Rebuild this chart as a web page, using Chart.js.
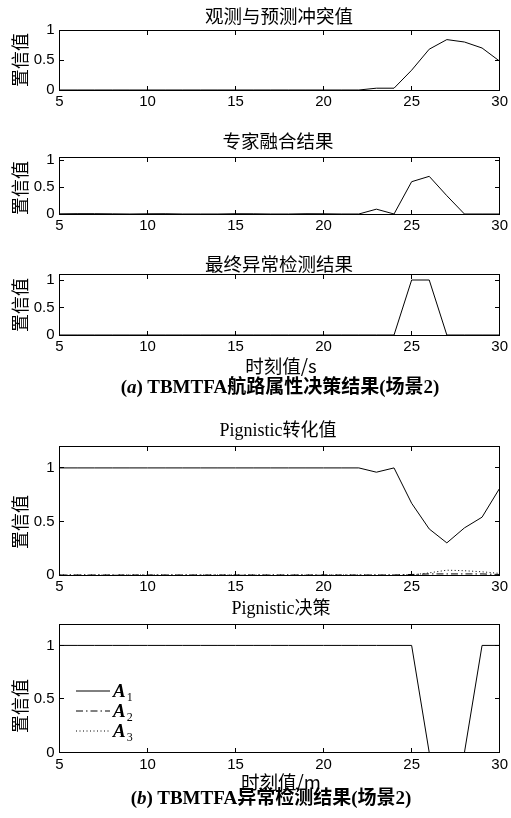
<!DOCTYPE html>
<html><head><meta charset="utf-8">
<script src="https://cdn.jsdelivr.net/npm/chart.js@4"></script>
<style>
html,body{margin:0;padding:0;background:#fff;}
body{width:511px;height:818px;position:relative;overflow:hidden;}
canvas{position:absolute;left:0;top:0;}
.t{position:absolute;white-space:nowrap;transform:translate(-50%,-50%);color:#000;line-height:1;}
.cjk{font-family:"Noto Sans CJK SC",sans-serif;font-size:18.5px;}
.ser{font-family:"Liberation Serif","Noto Sans CJK SC",serif;font-size:18px;}
.cap{font-family:"Liberation Serif","Noto Sans CJK SC",serif;font-size:19px;font-weight:bold;}
.yl{transform:translate(-50%,-50%) rotate(-90deg);font-size:18px;}
</style></head><body>
<canvas id="c1" width="511" height="818"></canvas>
<canvas id="c2" width="511" height="818"></canvas>
<canvas id="c3" width="511" height="818"></canvas>
<canvas id="c4" width="511" height="818"></canvas>
<canvas id="c5" width="511" height="818"></canvas>

<div class="t cjk" style="left:279px;top:15px">观测与预测冲突值</div>
<div class="t cjk" style="left:278px;top:140px">专家融合结果</div>
<div class="t cjk" style="left:279px;top:263px">最终异常检测结果</div>
<div class="t cjk" style="left:281px;top:365px">时刻值/s</div>
<div class="t cap" style="left:280px;top:386px">(<i>a</i>) TBMTFA航路属性决策结果(场景2)</div>
<div class="t ser" style="left:278px;top:430px">Pignistic转化值</div>
<div class="t ser" style="left:281px;top:608px">Pignistic决策</div>
<div class="t cjk" style="left:281px;top:781px">时刻值/m</div>
<div class="t cap" style="left:271px;top:797px">(<i>b</i>) TBMTFA异常检测结果(场景2)</div>

<div class="t cjk yl" style="left:19px;top:60px">置信值</div>
<div class="t cjk yl" style="left:19px;top:188px">置信值</div>
<div class="t cjk yl" style="left:19px;top:305px">置信值</div>
<div class="t cjk yl" style="left:19px;top:522px">置信值</div>
<div class="t cjk yl" style="left:19px;top:706px">置信值</div>

<script>
// ---- data ----
const timeSteps = [5,6,7,8,9,10,11,12,13,14,15,16,17,18,19,20,21,22,23,24,25,26,27,28,29,30];
const xTicks = [5,10,15,20,25,30];
const yTicks = [0,0.5,1];

const conflictValues = [0,0,0,0,0,0,0,0,0,0,0,0,0,0,0,0,0,0,0.03,0.03,0.33,0.68,0.84,0.80,0.70,0.48];
const fusionValues   = [0.003,0.006,0.006,0.003,0,0.004,0.005,0,0,0,0.005,0.004,0,0,0.005,0.004,0,0,0.09,0,0.60,0.70,0.34,0,0,0];
const finalValues    = [0,0,0,0,0,0,0,0,0,0,0,0,0,0,0,0,0,0,0,0,1,1,0,0,0,0];

const pignisticA1 = [1,1,1,1,1,1,1,1,1,1,1,1,1,1,1,1,1,1,0.96,1.0,0.67,0.43,0.30,0.44,0.54,0.81];
const pignisticA2 = [0,0,0,0,0,0,0,0,0,0,0,0,0,0,0,0,0,0,0,0,0.005,0.01,0.01,0.01,0.01,0.005];
const pignisticA3 = [0,0,0,0,0,0,0,0,0,0,0,0,0,0,0,0,0,0,0,0,0,0.02,0.045,0.04,0.03,0.015];

const decisionA1 = [1,1,1,1,1,1,1,1,1,1,1,1,1,1,1,1,1,1,1,1,1,0,0,0,1,1];
const decisionA2 = [0,0,0,0,0,0,0,0,0,0,0,0,0,0,0,0,0,0,0,0,0,0,0,0,0,0];
const decisionA3 = [0,0,0,0,0,0,0,0,0,0,0,0,0,0,0,0,0,0,0,0,0,0,0,0,0,0];

const seriesLabels = ['A1','A2','A3'];

// ---- helpers ----
const pts = arr => timeSteps.map((t,i)=>({x:t,y:arr[i]}));
const c = v => Math.floor(v)+0.5;
const dashA2 = [7,3,1.5,3];
const dashA3 = [1,2.5];

const boxTicks = {
  id:'boxTicks',
  afterDraw(chart){
    const {ctx, chartArea:a, scales:{x,y}} = chart;
    const L=c(a.left), R=c(a.right), T=c(a.top), B=c(a.bottom);
    ctx.save();
    ctx.strokeStyle='#000'; ctx.lineWidth=1; ctx.setLineDash([]);
    ctx.strokeRect(L,T,R-L,B-T);
    const len=4.5;
    ctx.beginPath();
    x.ticks.forEach(t=>{
      const p=c(x.getPixelForValue(t.value));
      if (p<=L+1||p>=R-1) return;
      ctx.moveTo(p,B); ctx.lineTo(p,B-len);
      ctx.moveTo(p,T); ctx.lineTo(p,T+len);
    });
    y.ticks.forEach(t=>{
      const p=c(y.getPixelForValue(t.value));
      if (p<=T+1||p>=B-1) return;
      ctx.moveTo(L,p); ctx.lineTo(L+len,p);
      ctx.moveTo(R,p); ctx.lineTo(R-len,p);
    });
    ctx.stroke();
    ctx.restore();
  }
};

const miniLegend = {
  id:'miniLegend',
  afterDraw(chart, args, opts){
    if(!opts || !opts.display) return;
    const ctx=chart.ctx;
    ctx.save();
    chart.data.datasets.forEach((ds,i)=>{
      const yy = opts.ys[i];
      ctx.strokeStyle='#000'; ctx.lineWidth=1;
      ctx.setLineDash(ds.borderDash||[]);
      ctx.beginPath(); ctx.moveTo(opts.x1,yy); ctx.lineTo(opts.x2,yy); ctx.stroke();
      ctx.setLineDash([]);
      ctx.fillStyle='#000';
      ctx.textBaseline='alphabetic'; ctx.textAlign='left';
      ctx.font='italic bold 19px "Liberation Serif", serif';
      const letter = ds.label.charAt(0), sub = ds.label.slice(1);
      ctx.fillText(letter, opts.x2+3, yy+6);
      const w = ctx.measureText(letter).width;
      ctx.font='12px "Liberation Serif", serif';
      ctx.fillText(sub, opts.x2+3+w+1, yy+10);
    });
    ctx.restore();
  }
};

function makeChart(id, datasets, plotTop, plotBottom, yMax, legendOpts){
  return new Chart(document.getElementById(id), {
    type:'line',
    data:{datasets},
    options:{
      responsive:false, animation:false, devicePixelRatio:1,
      layout:{padding:{top:plotTop,left:0,right:8.5,bottom:818-plotBottom-24}},
      elements:{point:{radius:0},line:{borderWidth:1,borderColor:'#000',tension:0}},
      plugins:{legend:{display:false},tooltip:{enabled:false},title:{display:false},
        miniLegend: legendOpts || {display:false}},
      scales:{
        x:{type:'linear',min:5,max:30,
          afterFit:s=>{s.height=24;},
          afterBuildTicks:s=>{s.ticks=xTicks.map(v=>({value:v}));},
          grid:{display:false,drawTicks:false},border:{display:false},
          ticks:{padding:3,color:'#000',maxRotation:0,font:{family:'"Liberation Sans", Arial, sans-serif',size:15},callback:v=>String(v)}},
        y:{type:'linear',min:0,max:yMax,
          afterFit:s=>{s.width=59.5;},
          afterBuildTicks:s=>{s.ticks=yTicks.map(v=>({value:v}));},
          grid:{display:false,drawTicks:false},border:{display:false},
          ticks:{padding:5,color:'#000',font:{family:'"Liberation Sans", Arial, sans-serif',size:15},callback:v=>String(v)}}
      }
    },
    plugins:[boxTicks, miniLegend]
  });
}

const solid = (label,arr)=>({label,data:pts(arr),borderColor:'#000',borderWidth:1,fill:false});

makeChart('c1',[solid('conflict',conflictValues)],30,90,1);
makeChart('c2',[solid('fusion',fusionValues)],157.5,214,1.05);
makeChart('c3',[solid('final',finalValues)],274.5,335,1.1);
makeChart('c4',[
  solid(seriesLabels[0],pignisticA1),
  {...solid(seriesLabels[1],pignisticA2),borderDash:dashA2},
  {...solid(seriesLabels[2],pignisticA3),borderDash:dashA3}
],446.5,575,1.2);
makeChart('c5',[
  solid(seriesLabels[0],decisionA1),
  {...solid(seriesLabels[1],decisionA2),borderDash:dashA2},
  {...solid(seriesLabels[2],decisionA3),borderDash:dashA3}
],624,752.5,1.2,{display:true,x1:76,x2:110,ys:[691,711,731]});
</script>
</body></html>
